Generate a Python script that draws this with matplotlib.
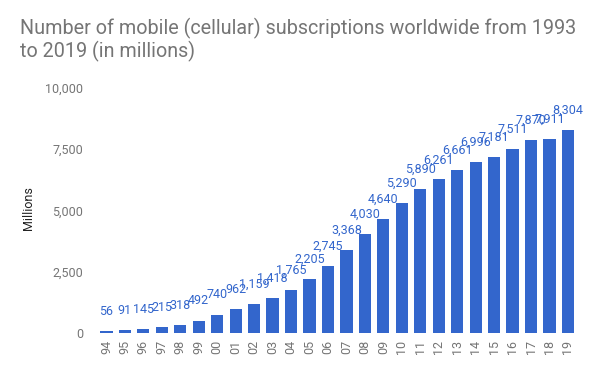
import matplotlib
matplotlib.use('Agg')
import matplotlib.pyplot as plt
import matplotlib.ticker as mtick

# data
years = ['94', '95', '96', '97', '98', '99', '00', '01', '02', '03', '04', '05', '06',
         '07', '08', '09', '10', '11', '12', '13', '14', '15', '16', '17', '18', '19']
subscriptions = [56, 91, 145, 215, 318, 492, 740, 962, 1159, 1418, 1765, 2205, 2745,
                 3368, 4030, 4640, 5290, 5890, 6261, 6661, 6996, 7181, 7511, 7870, 7911, 8304]
y_ticks = [0, 2500, 5000, 7500, 10000]

BAR_COLOR = '#3366cc'
GRAY = '#757575'

plt.rcParams['font.family'] = ['Roboto', 'DejaVu Sans']

fig = plt.figure(figsize=(6, 3.71), dpi=100)
ax = fig.add_axes([0.162, 0.1032, 0.800, 0.6596])

x = list(range(len(years)))
ax.bar(x, subscriptions, width=0.66, color=BAR_COLOR)

# value labels above each bar
for xi, v in zip(x, subscriptions):
    ax.annotate(f'{v:,}', (xi, v), xytext=(0, 9.5), textcoords='offset points',
                ha='center', va='bottom', fontsize=9, color=BAR_COLOR)

ax.set_xlim(-0.5, len(years) - 0.5)
ax.set_ylim(0, 10000)
ax.set_xticks(x)
ax.set_xticklabels(years, rotation=90, fontsize=9, color=GRAY)
ax.set_yticks(y_ticks)
ax.yaxis.set_major_formatter(mtick.StrMethodFormatter('{x:,.0f}'))
ax.tick_params(axis='y', labelsize=9, labelcolor=GRAY, length=0, pad=10)
ax.tick_params(axis='x', length=0, pad=5)
for s in ax.spines.values():
    s.set_visible(False)

fig.text(0.047, 0.44, 'Millions', rotation=90, ha='center', va='center',
         fontsize=9, color='#222222')
fig.text(0.034, 0.952, 'Number of mobile (cellular) subscriptions worldwide from 1993\nto 2019 (in millions)',
         ha='left', va='top', fontsize=14.2, color=GRAY, linespacing=1.15)

fig.savefig('out.png', dpi=100)
